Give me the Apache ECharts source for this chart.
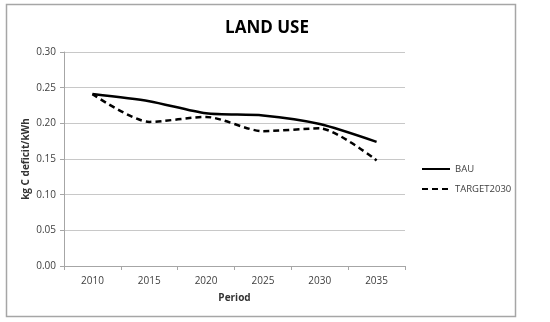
<!DOCTYPE html>
<html>
<head>
<meta charset="utf-8">
<script src="https://cdn.jsdelivr.net/npm/echarts@6/dist/echarts.min.js"></script>
<style>html,body{margin:0;padding:0;background:#fff;}#c{width:550px;height:322px;}</style>
</head>
<body>
<div id="c"></div>
<script>
var categories = ['2010', '2015', '2020', '2025', '2030', '2035'];
var bau = [0.241, 0.231, 0.214, 0.211, 0.199, 0.174];
var target2030 = [0.241, 0.202, 0.209, 0.189, 0.193, 0.148];
var seriesNames = ['BAU', 'TARGET2030'];

var chart = echarts.init(document.getElementById('c'));
var font = 'Open Sans';
chart.setOption({
  animation: false,
  backgroundColor: '#fff',
  graphic: [{
    type: 'rect', shape: {x: 6.5, y: 4.5, width: 509, height: 312},
    style: {fill: 'none', stroke: '#a6a6a6', lineWidth: 1.5}, silent: true
  }],
  title: {
    text: 'LAND USE', left: 262, top: 15, textAlign: 'center',
    textStyle: {fontFamily: font, fontWeight: 'bold', fontSize: 17, color: '#000'}
  },
  grid: {left: 64, right: 145, top: 52, bottom: 56},
  legend: {
    orient: 'vertical', left: 416, top: 159, itemWidth: 28, itemHeight: 8, itemGap: 10,
    data: seriesNames,
    itemStyle: {opacity: 0},
    textStyle: {fontFamily: font, fontSize: 9.5, color: '#404040'}
  },
  xAxis: {
    type: 'category', data: categories, boundaryGap: true,
    name: 'Period', nameLocation: 'middle', nameGap: 27,
    nameTextStyle: {fontFamily: font, fontWeight: 'bold', fontSize: 10, color: '#333'},
    axisLine: {lineStyle: {color: '#a6a6a6', width: 1}},
    axisTick: {show: true, length: 4, lineStyle: {color: '#a6a6a6'}},
    axisLabel: {fontFamily: font, fontSize: 10, color: '#404040', margin: 10}
  },
  yAxis: {
    type: 'value', min: 0, max: 0.3, interval: 0.05,
    name: 'kg C deficit/kWh', nameLocation: 'middle', nameGap: 33, nameRotate: 90,
    nameMoveOverlap: false,
    nameTextStyle: {fontFamily: font, fontWeight: 'bold', fontSize: 10, color: '#333'},
    axisLine: {show: true, lineStyle: {color: '#a6a6a6', width: 1}},
    axisTick: {show: true, length: 4, lineStyle: {color: '#a6a6a6'}},
    axisLabel: {fontFamily: font, fontSize: 10, color: '#404040', margin: 8,
      formatter: function (v) { return v.toFixed(2); }},
    splitLine: {lineStyle: {color: '#c8c8c8', width: 1}}
  },
  series: [{
    name: seriesNames[0], type: 'line', data: bau, symbol: 'none', smooth: 0.25,
    lineStyle: {color: '#000', width: 2.5}, itemStyle: {color: '#000'}
  }, {
    name: seriesNames[1], type: 'line', data: target2030, symbol: 'none', smooth: 0.25,
    lineStyle: {color: '#000', width: 2.5, type: [6, 4]}, itemStyle: {color: '#000'}
  }]
});
</script>
</body>
</html>
